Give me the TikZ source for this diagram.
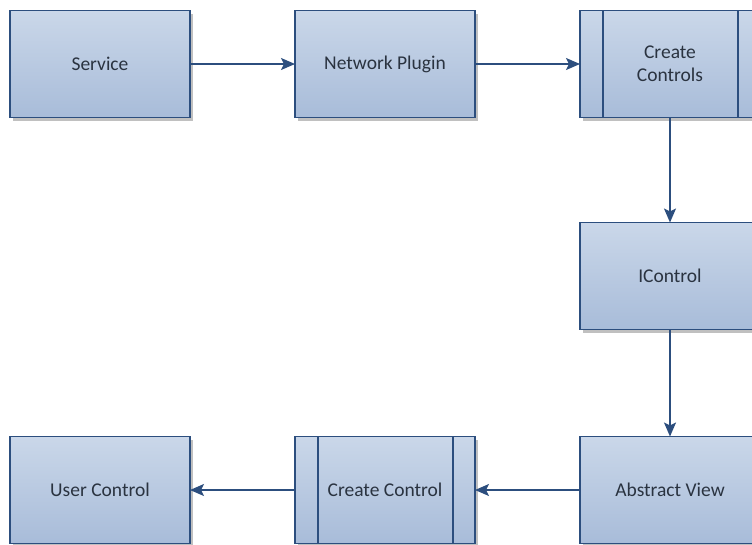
\documentclass[tikz,border=0pt]{standalone}
\usepackage{fontspec}
\setmainfont{Carlito}
\usetikzlibrary{positioning,arrows.meta,shadows}
\definecolor{boxtop}{HTML}{CAD7E9}
\definecolor{boxbot}{HTML}{A8BCD9}
\definecolor{edge}{HTML}{2C4E7E}
\definecolor{ink}{HTML}{2A3340}

\begin{document}
\begin{tikzpicture}[
	every node/.append style={font=\fontsize{19.5}{23}\selectfont}
	,box/.style={rectangle, draw=edge, line width=1.3pt, top color=boxtop, bottom color=boxbot, text=ink,
		minimum width=180pt, minimum height=107pt, align=center, outer sep=0pt,
		drop shadow={shadow xshift=3pt, shadow yshift=-3pt, fill=black!45, opacity=.55}}
	,proc/.style={box, path picture={
		\draw [edge, line width=1.3pt] ([xshift=23pt]path picture bounding box.north west) -- ([xshift=23pt]path picture bounding box.south west);
		\draw [edge, line width=1.3pt] ([xshift=-22pt]path picture bounding box.north east) -- ([xshift=-22pt]path picture bounding box.south east);
	}}
	,link/.style={-{Stealth[length=14pt, width=12pt, inset=3pt]}, draw=edge, line width=1.6pt}
]
	\useasboundingbox (0,0) rectangle (752pt,-544pt);
	\clip (0,0) rectangle (752pt,-544pt);
	\node [box] (svc) at (100pt,-64pt) {Service};
	\node [box, right=105pt of svc] (plug) {Network Plugin};
	\node [proc, right=105pt of plug] (mk) {Create\\Controls};
	\node [box, below=105pt of mk] (ictl) {IControl};
	\node [box, below=107pt of ictl] (view) {Abstract View};
	\node [proc, left=105pt of view] (mkone) {Create Control};
	\node [box, left=105pt of mkone] (user) {User Control};

	\draw [link] (svc) -- (plug);
	\draw [link] (plug) -- (mk);
	\draw [link] (mk) -- (ictl);
	\draw [link] (ictl) -- (view);
	\draw [link] (view) -- (mkone);
	\draw [link] (mkone) -- (user);
\end{tikzpicture}
\end{document}
